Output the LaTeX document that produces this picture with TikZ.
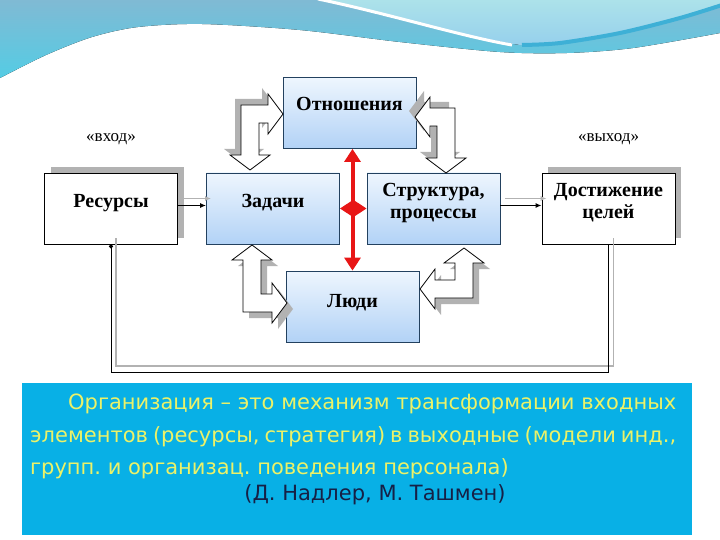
\documentclass[tikz,border=0pt]{standalone}
\usepackage{fontspec}
\setmainfont{Liberation Serif}
\newfontfamily\notefont{DejaVu Sans}
\usetikzlibrary{positioning,arrows.meta,shadows}

\definecolor{boxline}{RGB}{35,65,95}
\definecolor{boxtop}{RGB}{238,246,254}
\definecolor{boxbottom}{RGB}{178,210,246}
\definecolor{shadowgray}{RGB}{178,178,178}
\definecolor{arrowred}{RGB}{232,22,22}
\definecolor{notecyan}{RGB}{8,176,230}
\definecolor{noteyellow}{RGB}{236,242,104}
\definecolor{notenavy}{RGB}{22,32,70}
\definecolor{wavesteel}{RGB}{128,186,212}
\definecolor{wavecyan}{RGB}{84,204,228}
\definecolor{wavelight}{RGB}{172,226,234}
\definecolor{wavepale}{RGB}{150,208,236}
\definecolor{wavedark}{RGB}{62,176,214}

\tikzset{
  pics/bentarrow/.style 2 args={code={
    \path[pic actions] (0,0) -- (#1-15,0) -- (#1-15,-11) -- (#1,9)
      -- (#1-15,29) -- (#1-15,18) -- (18,18) -- (18,#2-15) -- (29,#2-15)
      -- (9,#2) -- (-11,#2-15) -- (0,#2-15) -- cycle;
  }}
}

\begin{document}
\begin{tikzpicture}[x=1pt, y=-1pt,
    block/.style={draw=boxline, line width=0.8pt, top color=boxtop, bottom color=boxbottom,
      minimum width=133pt, minimum height=71pt, align=center, text depth=15pt,
      font=\bfseries\fontsize{20}{22}\selectfont},
    plainblock/.style={draw=black, line width=0.8pt, fill=white,
      minimum width=133pt, minimum height=71pt, align=center, text depth=15pt,
      font=\bfseries\fontsize{20}{22}\selectfont,
      drop shadow={shadow xshift=6pt, shadow yshift=6pt, fill=shadowgray, opacity=1}},
    twoline/.style={text depth=16pt},
    tag/.style={font=\fontsize{17}{20}\selectfont},
    redarrow/.style={draw=arrowred, line width=4pt,
      {Triangle[length=13pt,width=16pt]}-{Triangle[length=13pt,width=16pt]}},
    feed/.style={line width=1.8pt, -{Latex[length=6pt,width=5pt]}},
    feedshadow/.style={feed, draw=shadowgray},
    loopline/.style={line width=1pt, -{Circle[length=4pt]}},
    loopshadow/.style={line width=1.2pt, draw=shadowgray},
    hollow/.style={draw=black, line width=0.8pt, fill=white},
    hollowshadow/.style={fill=shadowgray},
    note/.style={font=\notefont\fontsize{21}{32.5}\selectfont\frenchspacing}]

  \useasboundingbox (0,0) rectangle (720,540);
  \fill[top color=wavesteel, bottom color=wavecyan] (0,0) -- (720,0) -- plot[smooth] coordinates
    {(720,33) (633,48) (567,53) (500,52) (400,42) (300,30) (202,24) (138,27) (92,37) (46,55) (0,78)} -- cycle;
  \fill[top color=wavelight, bottom color=wavepale] (320,0) -- (720,0) -- plot[smooth] coordinates
    {(720,6) (680,17) (620,32) (560,42) (520,45)} .. controls (460,36) and (390,14) .. (320,0) -- cycle;
  \draw[white, line width=3pt] (318,-1) .. controls (390,14) and (460,36) .. (512,45);
  \draw[wavedark, line width=4pt] plot[smooth] coordinates {(522,45) (560,43) (620,33) (680,18) (722,5)};

  \node[block, text depth=18pt] (rel) at (349.5,113) {Отношения};
  \node[plainblock] (res) at (111,208.5) {Ресурсы};
  \node[block] (tasks) at (273,208.5) {Задачи};
  \node[block, twoline] (struct) at (433.5,208.5) {Структура,\\процессы};
  \node[plainblock, twoline] (goal) at (608.5,208.5) {Достижение\\целей};
  \node[block, text depth=11pt] (people) at (352.5,306.5) {Люди};
  \node[tag, above=24pt of res] (inlabel) {«вход»};
  \node[tag, above=24pt of goal] (outlabel) {«выход»};

  \draw[redarrow] (people.north |- rel.south) -- (people.north);
  \draw[redarrow] (tasks.east) -- (struct.west);

  \draw[feedshadow] ([shift={(5,-10)}]res.east) -- ([shift={(5,-10)}]tasks.west);
  \draw[feed] ([yshift=3pt]res.east) -- ([yshift=3pt]tasks.west);
  \draw[feedshadow] ([shift={(5,-10)}]struct.east) -- ([shift={(5,-10)}]goal.west);
  \draw[feed] ([yshift=3pt]struct.east) -- ([yshift=3pt]goal.west);

  \coordinate (loopbase) at (0,372);
  \draw[loopshadow] ([shift={(5,-6)}]goal.south) -- ([shift={(5,-6)}]goal.south |- loopbase)
    -- ([shift={(5,-6)}]res.south |- loopbase) -- ([shift={(5,-6)}]res.south);
  \draw[loopline] (goal.south) -- (goal.south |- loopbase) -- (res.south |- loopbase) -- (res.south);

  \pic[hollowshadow] at (235,99) {bentarrow={42}{65}};
  \pic[hollow] at (241,105) {bentarrow={42}{65}};
  \pic[hollowshadow, xscale=-1] at (449,102) {bentarrow={40}{65}};
  \pic[hollow, xscale=-1] at (455,108) {bentarrow={40}{65}};
  \pic[hollowshadow, yscale=-1] at (249,318) {bentarrow={44}{67}};
  \pic[hollow, yscale=-1] at (243,312) {bentarrow={44}{67}};
  \pic[hollowshadow, xscale=-1, yscale=-1] at (479,304) {bentarrow={53}{50}};
  \pic[hollow, xscale=-1, yscale=-1] at (473,298) {bentarrow={53}{50}};

  \node[fill=notecyan, minimum width=670pt, minimum height=152pt, inner sep=0pt] (note) at (357,459) {};
  \node[note, text=noteyellow, text width=646pt, align=justify, anchor=north west, inner sep=0pt] (def) at (30,394)
    {\hspace*{38pt}Организация – это механизм трансформации входных\linebreak
     элементов (ресурсы, стратегия) в выходные (модели инд.,\linebreak
     групп. и организац. поведения персонала)};
  \node[note, text=notenavy] (author) at (375,495) {(Д. Надлер, М. Ташмен)};
\end{tikzpicture}
\end{document}
